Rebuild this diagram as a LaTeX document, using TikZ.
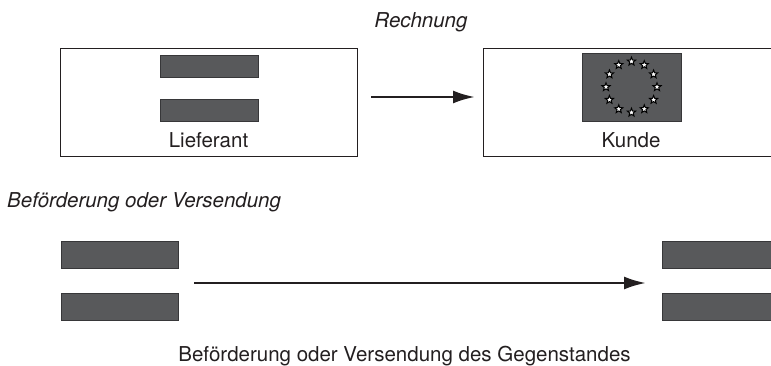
\documentclass[tikz,border=0pt]{standalone}
\usepackage{fontspec}
\setmainfont{TeX Gyre Heros}
\usetikzlibrary{shapes.geometric,arrows.meta,calc}
\definecolor{ink}{RGB}{35,31,32}
\definecolor{barfill}{RGB}{88,89,91}
\definecolor{barline}{RGB}{55,55,57}

\begin{document}
\begin{tikzpicture}[x=1pt,y=-1pt,font=\fontsize{20.5}{24}\selectfont,text=ink]
  \tikzstyle{frame}=[draw=ink,line width=0.9pt,inner sep=0pt]
  \tikzstyle{bar}=[fill=barfill,draw=barline,line width=0.8pt,inner sep=0pt]
  \tikzstyle{euro}=[star,star points=5,star point ratio=2.3,minimum size=8.5pt,inner sep=0pt,fill=white,draw=black,line width=1pt]
  \tikzstyle{flow}=[draw=ink,line width=2.6pt,-{Latex[length=22pt,width=13pt]}]
  \useasboundingbox (0,0) rectangle (771,366);
  \clip (0,0) rectangle (771,366);

  % Rechnung
  \node[anchor=base] (T_1) at (421,28) {\itshape Rechnung};
  \node[frame,minimum width=297pt,minimum height=108pt] (L) at (208.5,102) {};
  \node[bar,minimum width=98pt,minimum height=22pt] (L_1) at (209,66) {};
  \node[bar,minimum width=98pt,minimum height=22pt] (L_2) at (209,110) {};
  \node[anchor=base] (L_t) at (208.5,148) {Lieferant};

  \node[frame,minimum width=298pt,minimum height=108pt] (K) at (632,102) {};
  \node[bar,minimum width=99pt,minimum height=68pt] (flag) at (631.5,87) {};
  \foreach \i in {0,...,11}
    \node[euro] (S_\i) at ($(flag.center)+(\i*30:25.5)$) {};
  \node[anchor=base] (K_t) at (631,148) {Kunde};

  \coordinate (A_1) at (371,97);
  \coordinate (A_2) at (475,97);
  \draw[flow] (A_1) -- (A_2);

  % Befoerderung
  \node[anchor=base west,inner sep=0pt] (T_2) at (7,208) {\itshape Beförderung oder Versendung};
  \node[bar,minimum width=117pt,minimum height=27pt] (B_1) at (120,254.5) {};
  \node[bar,minimum width=117pt,minimum height=27pt] (B_2) at (120,306.5) {};
  \node[bar,minimum width=117pt,minimum height=27pt] (B_3) at (720.5,254.5) {};
  \node[bar,minimum width=117pt,minimum height=27pt] (B_4) at (720.5,306.5) {};

  \coordinate (A_3) at (194,283);
  \coordinate (A_4) at (646,283);
  \draw[flow] (A_3) -- (A_4);

  \node[anchor=base] (T_3) at (404.5,361) {Beförderung oder Versendung des Gegenstandes};
\end{tikzpicture}
\end{document}
